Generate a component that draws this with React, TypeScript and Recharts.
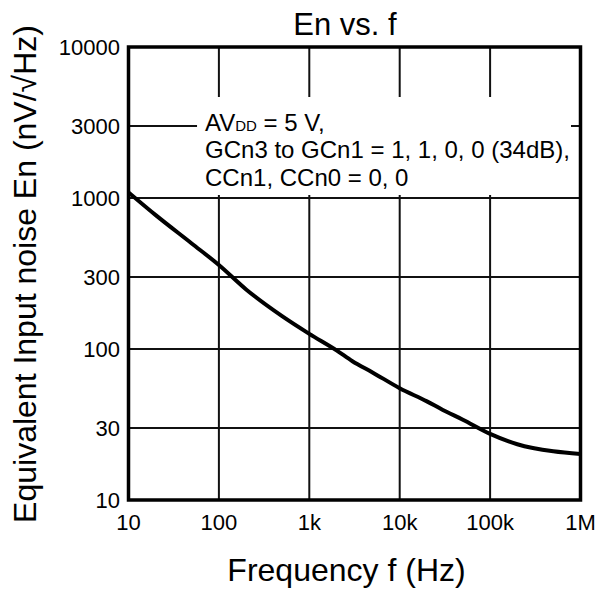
import React from "react";
import { LineChart, Line, XAxis, YAxis, CartesianGrid, ReferenceArea } from "recharts";

const FONT = "'Liberation Sans', Arial, Helvetica, sans-serif";

const freqs = [10, 20, 50, 100, 200, 500, 1000, 2000, 3000, 5000, 10000, 20000, 30000, 50000, 100000, 200000, 500000, 1000000];
const noise = [1090, 770, 500, 360, 248, 165, 126, 98, 83, 70, 55, 45, 39.5, 34, 27.4, 23.4, 21, 20.2];

const xTicks = [10, 100, 1000, 10000, 100000, 1000000];
const xTickLabels = ["10", "100", "1k", "10k", "100k", "1M"];
const yTicks = [10, 30, 100, 300, 1000, 3000, 10000];

const title = "En vs. f";
const xTitle = "Frequency f (Hz)";
const yTitle = "Equivalent Input noise En (nV/\u221AHz)";
const noteLines = ["GCn3 to GCn1 = 1, 1, 0, 0 (34dB),", "CCn1, CCn0 = 0, 0"];

const data = freqs.map((f, i) => ({ f, en: noise[i] }));

const NoteLabel = (props: any) => {
  const vb = props.viewBox || {};
  const x = vb.x + 8;
  const y = vb.y;
  return (
    <g fontFamily={FONT} fill="#000" stroke="none">
      <text x={x} y={y + 34} fontSize={24}>
        AV<tspan fontSize={15}>DD</tspan> = 5 V,
      </text>
      <text x={x} y={y + 61} fontSize={24}>{noteLines[0]}</text>
      <text x={x} y={y + 89} fontSize={24}>{noteLines[1]}</text>
    </g>
  );
};

const XTick = (props: any) => {
  const { x, y, payload } = props;
  const v = payload.value;
  const label = xTickLabels[xTicks.indexOf(v)] ?? String(v);
  return (
    <text x={x} y={y} dy="0.71em" textAnchor="middle" fontSize={22} fontFamily={FONT} fill="#000" stroke="none">
      {label}
    </text>
  );
};

const YTick = (props: any) => {
  const { x, y, payload } = props;
  return (
    <text x={x} y={y} dy="0.36em" textAnchor="end" fontSize={22} fontFamily={FONT} fill="#000" stroke="none">
      {String(payload.value)}
    </text>
  );
};

export default function App() {
  return (
    <div style={{ position: "absolute", left: 0, top: 0, width: 600, height: 589, background: "#fff" }}>
      <LineChart
        width={600}
        height={589}
        data={data}
        margin={{ top: 47, right: 19.5, bottom: 0, left: 0 }}
        style={{ fontFamily: FONT }}
      >
        <CartesianGrid stroke="#111" strokeWidth={2} horizontalValues={yTicks} verticalValues={xTicks} />
        <XAxis
          dataKey="f"
          type="number"
          scale="log"
          domain={[10, 1000000]}
          ticks={xTicks}
          allowDataOverflow
          height={89}
          axisLine={false}
          tickLine={false}
          tickSize={0}
          tickMargin={14}
          interval={0}
          tick={<XTick />}
        />
        <YAxis
          type="number"
          scale="log"
          domain={[10, 10000]}
          ticks={yTicks}
          allowDataOverflow
          width={128.5}
          axisLine={false}
          tickLine={false}
          tickSize={0}
          tickMargin={8.5}
          interval={0}
          tick={<YTick />}
        />
        <ReferenceArea
          x1={57.3}
          x2={785000}
          y1={1047}
          y2={4670}
          fill="#fff"
          fillOpacity={1}
          stroke="none"
          ifOverflow="visible"
          label={<NoteLabel />}
        />
        <Line
          type="monotone"
          dataKey="en"
          stroke="#000"
          strokeWidth={4}
          dot={false}
          activeDot={false}
          isAnimationActive={false}
        />
        <ReferenceArea
          x1={10}
          x2={1000000}
          y1={10}
          y2={10000}
          fill="none"
          stroke="#000"
          strokeWidth={3.5}
          ifOverflow="visible"
        />
      </LineChart>
      <svg
        width={600}
        height={589}
        style={{ position: "absolute", left: 0, top: 0, pointerEvents: "none" }}
        fontFamily={FONT}
      >
        <text x={345} y={35} fontSize={31} textAnchor="middle" fill="#000">{title}</text>
        <text x={346.5} y={581} fontSize={32} textAnchor="middle" fill="#000">{xTitle}</text>
        <text x={0} y={0} fontSize={32} textAnchor="middle" fill="#000" transform="translate(36,274) rotate(-90)">
          {yTitle}
        </text>
      </svg>
    </div>
  );
}
